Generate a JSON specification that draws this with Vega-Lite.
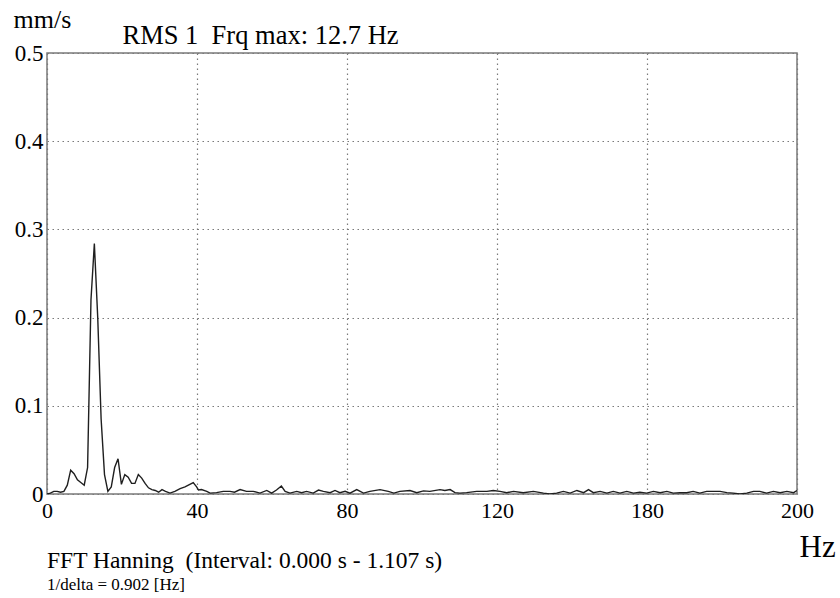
{
  "$schema": "https://vega.github.io/schema/vega-lite/v6.json",
  "width": 750,
  "height": 441,
  "autosize": {"type": "none"},
  "padding": {"left": 47, "top": 53, "right": 43, "bottom": 104},
  "background": "white",
  "config": {
    "view": {"stroke": "#7a7a7a", "strokeWidth": 1.5},
    "font": "Liberation Serif"
  },
  "title": {
    "text": "FFT Hanning \u00a0(Interval: 0.000 s - 1.107 s)",
    "subtitle": "1/delta = 0.902 [Hz]",
    "orient": "bottom",
    "anchor": "start",
    "frame": "group",
    "font": "Liberation Serif",
    "fontSize": 23.5,
    "fontWeight": "normal",
    "color": "black",
    "subtitleFont": "Liberation Serif",
    "subtitleFontSize": 17,
    "subtitleColor": "black",
    "subtitlePadding": 4,
    "offset": 0,
    "dy": -13
  },
  "data": {
    "values": [
      {"f": 0.0, "v": 0.0},
      {"f": 0.902, "v": 0.001},
      {"f": 1.804, "v": 0.003},
      {"f": 2.706, "v": 0.003},
      {"f": 3.608, "v": 0.002},
      {"f": 4.51, "v": 0.003},
      {"f": 5.412, "v": 0.01},
      {"f": 6.314, "v": 0.027},
      {"f": 7.216, "v": 0.023},
      {"f": 8.118, "v": 0.016},
      {"f": 9.02, "v": 0.013},
      {"f": 9.922, "v": 0.01},
      {"f": 10.824, "v": 0.03},
      {"f": 11.726, "v": 0.22},
      {"f": 12.628, "v": 0.284},
      {"f": 13.53, "v": 0.2},
      {"f": 14.432, "v": 0.085},
      {"f": 15.334, "v": 0.022},
      {"f": 16.236, "v": 0.003},
      {"f": 17.138, "v": 0.008},
      {"f": 18.04, "v": 0.03},
      {"f": 18.942, "v": 0.04},
      {"f": 19.844, "v": 0.011},
      {"f": 20.746, "v": 0.022},
      {"f": 21.648, "v": 0.019},
      {"f": 22.55, "v": 0.012},
      {"f": 23.452, "v": 0.012},
      {"f": 24.354, "v": 0.022},
      {"f": 25.256, "v": 0.018},
      {"f": 26.158, "v": 0.012},
      {"f": 27.06, "v": 0.007},
      {"f": 27.962, "v": 0.005},
      {"f": 28.864, "v": 0.004},
      {"f": 29.766, "v": 0.002},
      {"f": 30.668, "v": 0.005},
      {"f": 31.6, "v": 0.003},
      {"f": 32.8, "v": 0.001},
      {"f": 34.1, "v": 0.003},
      {"f": 35.5, "v": 0.006},
      {"f": 36.8, "v": 0.008},
      {"f": 37.7, "v": 0.01},
      {"f": 39.0, "v": 0.013},
      {"f": 39.9, "v": 0.008},
      {"f": 40.4, "v": 0.0045},
      {"f": 41.2, "v": 0.005},
      {"f": 42.6, "v": 0.003},
      {"f": 43.5, "v": 0.001},
      {"f": 45.2, "v": 0.0015},
      {"f": 47.0, "v": 0.003},
      {"f": 48.8, "v": 0.003},
      {"f": 50.0, "v": 0.002},
      {"f": 51.5, "v": 0.005},
      {"f": 53.2, "v": 0.003},
      {"f": 55.0, "v": 0.003},
      {"f": 56.8, "v": 0.001},
      {"f": 58.6, "v": 0.004},
      {"f": 59.9, "v": 0.001},
      {"f": 61.2, "v": 0.0045},
      {"f": 62.5, "v": 0.009},
      {"f": 63.5, "v": 0.003},
      {"f": 64.8, "v": 0.001},
      {"f": 66.6, "v": 0.003},
      {"f": 67.9, "v": 0.0015},
      {"f": 69.2, "v": 0.003},
      {"f": 71.0, "v": 0.001},
      {"f": 72.4, "v": 0.0045},
      {"f": 73.7, "v": 0.003},
      {"f": 75.5, "v": 0.0015},
      {"f": 76.8, "v": 0.004},
      {"f": 78.1, "v": 0.0015},
      {"f": 79.5, "v": 0.003},
      {"f": 80.8, "v": 0.001},
      {"f": 82.6, "v": 0.005},
      {"f": 84.4, "v": 0.001},
      {"f": 86.1, "v": 0.003},
      {"f": 88.8, "v": 0.005},
      {"f": 91.0, "v": 0.003},
      {"f": 92.5, "v": 0.001},
      {"f": 94.1, "v": 0.003},
      {"f": 96.8, "v": 0.004},
      {"f": 98.6, "v": 0.0015},
      {"f": 100.4, "v": 0.0035},
      {"f": 102.1, "v": 0.003},
      {"f": 104.8, "v": 0.005},
      {"f": 106.1, "v": 0.004},
      {"f": 107.5, "v": 0.005},
      {"f": 108.8, "v": 0.0015},
      {"f": 110.1, "v": 0.001},
      {"f": 111.9, "v": 0.0015},
      {"f": 114.6, "v": 0.003},
      {"f": 117.3, "v": 0.003},
      {"f": 119.0, "v": 0.004},
      {"f": 120.8, "v": 0.003},
      {"f": 122.6, "v": 0.0015},
      {"f": 124.4, "v": 0.003},
      {"f": 127.0, "v": 0.0015},
      {"f": 129.7, "v": 0.003},
      {"f": 132.4, "v": 0.001},
      {"f": 134.1, "v": 0.0},
      {"f": 135.9, "v": 0.001},
      {"f": 137.7, "v": 0.003},
      {"f": 139.5, "v": 0.001},
      {"f": 141.3, "v": 0.004},
      {"f": 143.1, "v": 0.0015},
      {"f": 144.4, "v": 0.005},
      {"f": 145.7, "v": 0.0015},
      {"f": 147.5, "v": 0.003},
      {"f": 149.3, "v": 0.001},
      {"f": 151.0, "v": 0.003},
      {"f": 152.8, "v": 0.001},
      {"f": 154.6, "v": 0.003},
      {"f": 156.4, "v": 0.001},
      {"f": 158.1, "v": 0.002},
      {"f": 159.9, "v": 0.001},
      {"f": 161.7, "v": 0.003},
      {"f": 163.5, "v": 0.0015},
      {"f": 165.3, "v": 0.003},
      {"f": 167.0, "v": 0.001},
      {"f": 168.8, "v": 0.0015},
      {"f": 170.6, "v": 0.0015},
      {"f": 172.3, "v": 0.003},
      {"f": 174.1, "v": 0.001},
      {"f": 175.9, "v": 0.003},
      {"f": 177.7, "v": 0.003},
      {"f": 179.5, "v": 0.003},
      {"f": 181.3, "v": 0.0015},
      {"f": 183.0, "v": 0.001},
      {"f": 184.8, "v": 0.0},
      {"f": 186.6, "v": 0.001},
      {"f": 188.4, "v": 0.003},
      {"f": 190.1, "v": 0.003},
      {"f": 191.9, "v": 0.001},
      {"f": 193.7, "v": 0.003},
      {"f": 195.5, "v": 0.0015},
      {"f": 197.3, "v": 0.003},
      {"f": 199.1, "v": 0.0015},
      {"f": 200.0, "v": 0.004}
    ]
  },
  "layer": [
    {
      "mark": {"type": "line", "opacity": 0},
      "encoding": {
        "x": {
          "field": "f",
          "type": "quantitative",
          "scale": {"domain": [0, 200], "nice": false, "zero": false},
          "axis": {
            "orient": "top",
            "labels": false,
            "ticks": false,
            "domain": false,
            "grid": false,
            "title": "RMS 1 \u00a0Frq max: 12.7 Hz",
            "titleFont": "Liberation Serif",
            "titleFontSize": 26.5,
            "titleFontWeight": "normal",
            "titleColor": "black",
            "titleX": 75,
            "titleY": -10,
            "titleAlign": "left",
            "titleBaseline": "alphabetic"
          }
        },
        "y": {
          "field": "v",
          "type": "quantitative",
          "scale": {"domain": [0, 0.5], "nice": false, "zero": false},
          "axis": {
            "values": [0, 0.1, 0.2, 0.3, 0.4, 0.5],
            "labelExpr": "datum.value == 0 ? '0' : format(datum.value, '.1f')",
            "labelFont": "Liberation Serif",
            "labelFontSize": 23,
            "labelColor": "black",
            "labelFlush": false,
            "labelOverlap": false,
            "labelBound": false,
            "labelPadding": 4,
            "ticks": false,
            "domain": false,
            "grid": true,
            "gridColor": "#7a7a7a",
            "gridDash": [1.5, 3.5],
            "gridWidth": 1.2,
            "title": "mm/s",
            "titleFont": "Liberation Serif",
            "titleFontSize": 26,
            "titleFontWeight": "normal",
            "titleColor": "black",
            "titleAngle": 0,
            "titleX": -34,
            "titleY": -26,
            "titleAlign": "left",
            "titleBaseline": "alphabetic"
          }
        }
      }
    },
    {
      "mark": {"type": "line", "color": "#1f1f1f", "strokeWidth": 1.4, "clip": true},
      "encoding": {
        "x": {
          "field": "f",
          "type": "quantitative",
          "axis": {
            "orient": "bottom",
            "values": [0, 40, 80, 120, 160, 200],
            "labelExpr": "datum.value == 160 ? '180' : datum.label",
            "labelFont": "Liberation Serif",
            "labelFontSize": 22,
            "labelColor": "black",
            "labelFlush": false,
            "labelOverlap": false,
            "labelBound": false,
            "labelPadding": 6,
            "ticks": false,
            "domain": false,
            "grid": true,
            "gridColor": "#7a7a7a",
            "gridDash": [1.5, 3.5],
            "gridWidth": 1.2,
            "title": "Hz",
            "titleFont": "Liberation Serif",
            "titleFontSize": 31,
            "titleFontWeight": "normal",
            "titleColor": "black",
            "titleX": 752,
            "titleY": 62,
            "titleAlign": "left",
            "titleBaseline": "alphabetic"
          }
        },
        "y": {"field": "v", "type": "quantitative"}
      }
    }
  ],
  "resolve": {"axis": {"x": "independent"}}
}
